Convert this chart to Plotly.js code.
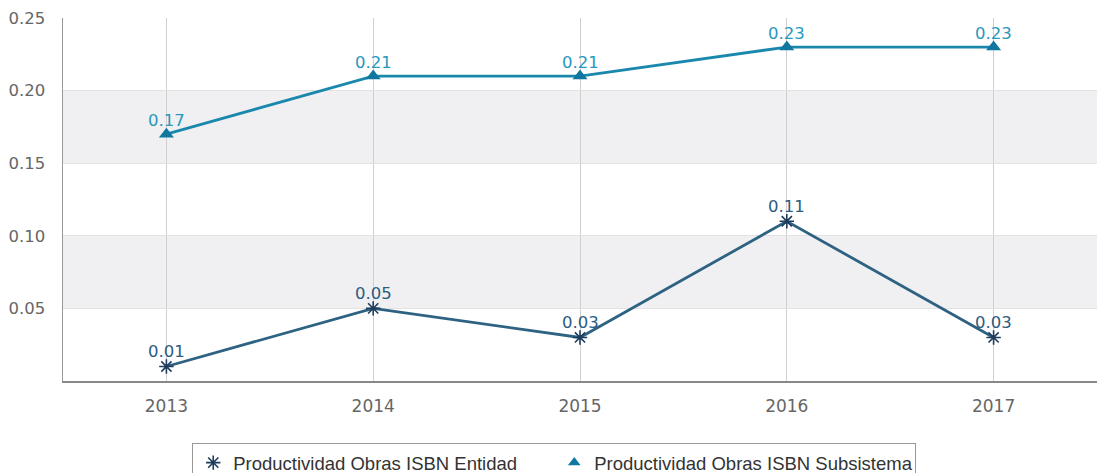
<!DOCTYPE html>
<html>
<head>
<meta charset="utf-8">
<script src="https://cdn.plot.ly/plotly-3.0.1.min.js"></script>
<style>html,body{margin:0;padding:0;background:#fff;}#chart{width:1097px;height:473px;}</style>
</head>
<body>
<div id="chart"></div>
<script>
const years = [2013, 2014, 2015, 2016, 2017];
const entidad = [0.01, 0.05, 0.03, 0.11, 0.03];
const subsistema = [0.17, 0.21, 0.21, 0.23, 0.23];
const seriesNames = ['Productividad Obras ISBN Entidad', 'Productividad Obras ISBN Subsistema'];
const yTicks = [0.05, 0.10, 0.15, 0.20, 0.25];
const yTickLabels = ['0.05', '0.10', '0.15', '0.20', '0.25'];
const bands = [[0.05, 0.10], [0.15, 0.20]];

const entColor = '#2e6282', entMarker = '#1f3c5c', entText = '#2c5c80';
const subColor = '#1a88ad', subMarker = '#0f77a0', subText = '#2898bd';

const traces = [
  {
    x: years, y: entidad, name: seriesNames[0], showlegend: false,
    type: 'scatter', mode: 'lines+markers',
    line: {color: entColor, width: 2.8},
    marker: {symbol: 'asterisk-open', size: 12, color: entMarker, line: {color: entMarker, width: 1.6}}
  },
  {
    x: years, y: subsistema, name: seriesNames[1], showlegend: false,
    type: 'scatter', mode: 'lines+markers',
    line: {color: subColor, width: 2.8},
    marker: {symbol: 'triangle-up', size: 13, color: subMarker}
  },
  {
    x: [null], y: [null], name: seriesNames[0], type: 'scatter', mode: 'markers',
    marker: {symbol: 'asterisk-open', size: 12, color: entMarker, line: {color: entMarker, width: 1.6}}
  },
  {
    x: [null], y: [null], name: seriesNames[1], type: 'scatter', mode: 'markers',
    marker: {symbol: 'triangle-up', size: 11, color: subMarker}
  }
];

const annotations = [];
years.forEach((yr, i) => {
  annotations.push({x: yr, y: entidad[i], xref: 'x', yref: 'y', text: entidad[i].toFixed(2),
    showarrow: false, yanchor: 'middle', yshift: 15,
    font: {family: 'DejaVu Sans', size: 16.5, color: entText}});
  annotations.push({x: yr, y: subsistema[i], xref: 'x', yref: 'y', text: subsistema[i].toFixed(2),
    showarrow: false, yanchor: 'middle', yshift: 14,
    font: {family: 'DejaVu Sans', size: 16.5, color: subText}});
});

const shapes = bands.map(b => ({
  type: 'rect', xref: 'paper', yref: 'y', x0: 0, x1: 1, y0: b[0], y1: b[1],
  fillcolor: '#f0f0f2', line: {width: 0}, layer: 'below'
}));

const layout = {
  width: 1097, height: 473,
  margin: {l: 63, r: 0, t: 18, b: 92, autoexpand: false},
  paper_bgcolor: '#ffffff', plot_bgcolor: '#ffffff',
  showlegend: true,
  legend: {
    orientation: 'h', x: 0.125, xanchor: 'left', y: -0.171, yanchor: 'top',
    font: {family: 'Liberation Sans', size: 18.5, color: '#333'},
    bordercolor: '#999', borderwidth: 1, itemwidth: 30,
    entrywidth: 316, entrywidthmode: 'pixels'
  },
  xaxis: {
    range: [2012.5, 2017.5], tickvals: years, ticktext: years.map(String),
    showgrid: true, gridcolor: '#cfcfcf', gridwidth: 1,
    showline: true, linecolor: '#888', linewidth: 1.5,
    ticks: '', zeroline: false, ticklabelstandoff: 9,
    tickfont: {family: 'DejaVu Sans', size: 17, color: '#666'}
  },
  yaxis: {
    range: [0, 0.25], tickvals: yTicks, ticktext: yTickLabels,
    showgrid: true, gridcolor: '#e2e2e2', gridwidth: 1,
    showline: true, linecolor: '#999', linewidth: 1.5,
    ticks: '', zeroline: false, ticklabelstandoff: 13,
    tickfont: {family: 'DejaVu Sans', size: 16.5, color: '#666'}
  },
  shapes: shapes,
  annotations: annotations
};

Plotly.newPlot('chart', traces, layout, {displayModeBar: false, staticPlot: true});
</script>
</body>
</html>
